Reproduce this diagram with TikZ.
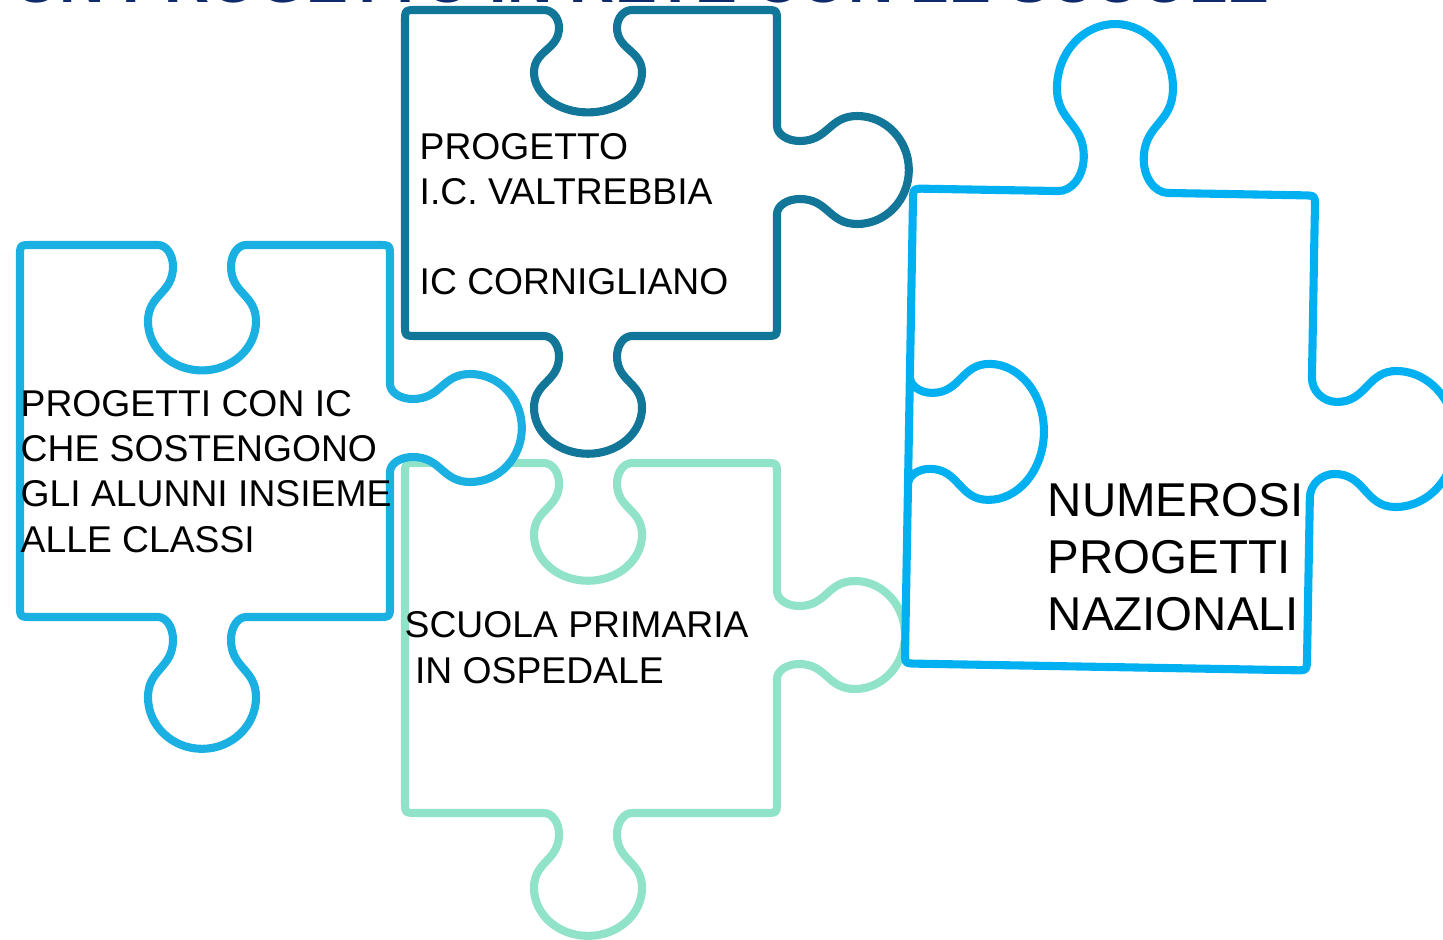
\documentclass[tikz,border=0pt]{standalone}
\usepackage{fontspec}
\setmainfont{Liberation Sans}
\definecolor{tealA}{HTML}{127699}
\definecolor{blueB}{HTML}{1AB0E2}
\definecolor{mintC}{HTML}{90E3C8}
\definecolor{blueD}{HTML}{00B0F0}
\definecolor{navy}{HTML}{0E2A6A}

\tikzset{
  kf/.style 2 args={shift={(#1)},rotate=#2},
  piece/.style={line width=2.3pt, line join=round, fill=white},
  lbl/.style={inner sep=0pt, align=left, anchor=base west,
    font=\fontsize{10.6}{12.8}\selectfont},
}

% one tab or blank of a piece: centre on the edge, direction, depth factor,
% edge half width, neck half width, neck depth, head depth, head radii
\newcommand{\knob}[9]{%
  -- ([kf={#1}{#2}] -#4,0)
  .. controls ([kf={#1}{#2}] -#4+0.55*#4-0.55*#5,0)
  and ([kf={#1}{#2}] -#5,-0.45*#3*#6)
  .. ([kf={#1}{#2}] -#5,-1*#3*#6)
  .. controls ([kf={#1}{#2}] -#5,-0.5*#3*#6-0.5*#3*#7)
  and ([kf={#1}{#2}] -#8,-0.5*#3*#6-0.5*#3*#7)
  .. ([kf={#1}{#2}] -#8,-1*#3*#7)
  .. controls ([kf={#1}{#2}] -#8,-1*#3*#7-0.552*#3*#9)
  and ([kf={#1}{#2}] -0.552*#8,-1*#3*#7-1*#3*#9)
  .. ([kf={#1}{#2}] 0,-1*#3*#7-1*#3*#9)
  .. controls ([kf={#1}{#2}] 0.552*#8,-1*#3*#7-1*#3*#9)
  and ([kf={#1}{#2}] #8,-1*#3*#7-0.552*#3*#9)
  .. ([kf={#1}{#2}] #8,-1*#3*#7)
  .. controls ([kf={#1}{#2}] #8,-0.5*#3*#6-0.5*#3*#7)
  and ([kf={#1}{#2}] #5,-0.5*#3*#6-0.5*#3*#7)
  .. ([kf={#1}{#2}] #5,-1*#3*#6)
  .. controls ([kf={#1}{#2}] #5,-0.45*#3*#6)
  and ([kf={#1}{#2}] #4-0.55*#4+0.55*#5,0)
  .. ([kf={#1}{#2}] #4,0)}
\newcommand{\sknob}[3]{\knob{#1}{#2}{#3}{44}{29}{22}{78}{54}{50}}
% rounded corner of a piece: corner, direction of the edge coming in
\newcommand{\rc}[2]{%
  -- ([kf={#1}{#2}] -12,0) .. controls ([kf={#1}{#2}] 0,0) .. ([kf={#1}{#2}] 0,12)}

\begin{document}
\begin{tikzpicture}[x=0.01cm, y=-0.01cm]
  \useasboundingbox (0,0) rectangle (1443,940);

  \node[anchor=base west, inner sep=0pt, text=navy,
    font=\fontsize{17.8}{20}\selectfont\bfseries] (titolo) at (14,3)
    {UN PROGETTO IN RETE CON LE SCUOLE};

  % valtrebbia
  \draw[piece, draw=tealA] (405,170) \rc{405,10}{90}
    \sknob{588,10}{0}{-0.8} \rc{777,10}{0}
    \sknob{777,170}{-90}{1.03} \rc{777,336}{-90}
    \sknob{588,336}{180}{0.92} \rc{405,336}{180} -- cycle;

  % ospedale
  \draw[piece, draw=mintC] (405,640) \rc{405,463}{90}
    \sknob{588,463}{0}{-0.92} \rc{777,463}{0}
    \sknob{777,635}{-90}{1} \rc{777,813}{-90}
    \sknob{588,813}{180}{0.96} \rc{405,813}{180} -- cycle;

  % sostegno
  \draw[piece, draw=blueB] (20,430) \rc{20,245}{90}
    \sknob{202,245}{0}{-0.98} \rc{390,245}{0}
    \sknob{390,428}{-90}{1.03} \rc{390,617}{-90}
    \sknob{202,617}{180}{1.03} \rc{20,617}{180} -- cycle;

  % nazionali
  \begin{scope}[rotate around={-1:(1110,429)}]
    \draw[piece, draw=blueD] (909,550) \rc{909,192}{90}
      \knob{1109,192}{0}{1}{55}{30}{34}{104}{58}{64} \rc{1311,192}{0}
      \knob{1311,434}{-90}{1}{60}{36}{25}{85}{68}{60} \rc{1311,667}{-90}
      \rc{909,667}{180}
      \knob{909,434}{90}{-1}{54}{38}{22}{80}{68}{55} -- cycle;
  \end{scope}

  \node[lbl] (valtrebbia) at (419,295)
    {PROGETTO\\I.C. VALTREBBIA\\~\\IC CORNIGLIANO};
  \node[lbl] (sostegno) at (20,552)
    {PROGETTI CON IC\\CHE SOSTENGONO\\GLI ALUNNI INSIEME\\ALLE CLASSI};
  \node[lbl] (ospedale) at (404,683) {SCUOLA PRIMARIA\\\ IN OSPEDALE};
  \node[lbl, font=\fontsize{13.5}{16.2}\selectfont] (nazionali) at (1047,630)
    {NUMEROSI\\PROGETTI\\NAZIONALI};
\end{tikzpicture}
\end{document}
